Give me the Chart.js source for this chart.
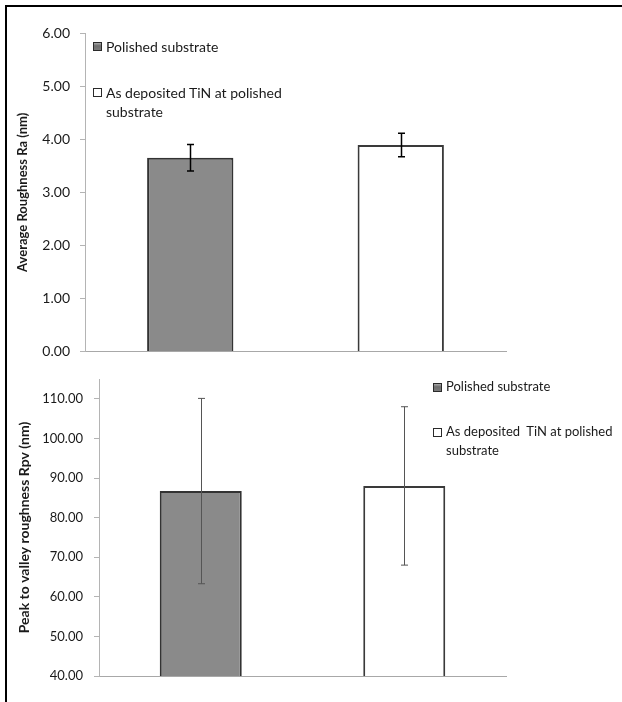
<!DOCTYPE html>
<html>
<head>
<meta charset="utf-8">
<script src="https://cdn.jsdelivr.net/npm/chart.js@4.4.1/dist/chart.umd.min.js"></script>
<style>
  html, body { margin: 0; padding: 0; background: #fff; overflow: hidden; }
  body { width: 622px; height: 702px; position: relative; font-family: Lato, "Liberation Sans", sans-serif; }
  .frame { position: absolute; left: 5px; top: 5px; width: 700px; height: 800px;
           border-top: 2px solid #000; border-left: 2px solid #000; }
  .box { position: absolute; left: 0; }
  .box canvas { display: block; }
  .item { position: absolute; color: #1a1a1a; white-space: pre; }
  .mark { position: absolute; width: 7px; height: 7px; border: 1px solid #2a2a2a; }
  .mark.grey { background: linear-gradient(#aaa, #6e6e6e 40%, #7a7a7a); }
  .mark.white { background: #fff; }
</style>
</head>
<body>
<div class="frame"></div>
<div class="box" style="top:0"><canvas id="ra" width="622" height="370"></canvas></div>
<div class="box" style="top:360px"><canvas id="rpv" width="622" height="342"></canvas></div>
<div id="legends"></div>
<script>
'use strict';

// ── Data ─────────────────────────────────────────────────────────────────────
const categories  = ['Polished substrate', 'As deposited TiN at polished\nsubstrate'];
const raValues    = [3.65, 3.89];
const raErrors    = [0.25, 0.22];
const raTicks     = [0, 1, 2, 3, 4, 5, 6];
const rpvValues   = [86.7, 88.0];
const rpvErrors   = [23.4, 20.0];
const rpvTicks    = [40, 50, 60, 70, 80, 90, 100, 110];

const barFill     = ['#8a8a8a', '#ffffff'];
const barBorder   = ['#333333', '#3a3a3a'];

Chart.defaults.font.family = 'Lato, "Liberation Sans", sans-serif';
Chart.defaults.color = '#1a1a1a';

// ── Error bar plugin (draws from the dataset's y scale) ──────────────────────
const errorBars = {
  id: 'errorBars',
  afterDatasetsDraw(chart, args, opts) {
    const ctx  = chart.ctx;
    const y    = chart.scales.y;
    const meta = chart.getDatasetMeta(0);
    const vals = chart.data.datasets[0].data;
    ctx.save();
    ctx.strokeStyle = opts.color;
    ctx.lineWidth   = opts.width;
    meta.data.forEach((bar, i) => {
      const hi = y.getPixelForValue(vals[i] + opts.errors[i]);
      const lo = y.getPixelForValue(vals[i] - opts.errors[i]);
      const x  = Math.round(bar.x) + 0.5;
      ctx.beginPath();
      ctx.moveTo(x, hi); ctx.lineTo(x, lo);
      ctx.moveTo(x - opts.cap, hi); ctx.lineTo(x + opts.cap, hi);
      ctx.moveTo(x - opts.cap, lo); ctx.lineTo(x + opts.cap, lo);
      ctx.stroke();
    });
    ctx.restore();
  },
};

function makeChart(id, cfg) {
  return new Chart(document.getElementById(id), {
    type: 'bar',
    data: {
      labels: categories,
      datasets: [{
        data: cfg.values,
        backgroundColor: barFill,
        borderColor: barBorder,
        borderWidth: 2,
        borderSkipped: 'start',
        barPercentage: cfg.barPct,
        categoryPercentage: 1,
      }],
    },
    options: {
      responsive: false,
      animation: false,
      layout: { padding: cfg.padding },
      plugins: {
        legend: { display: false },
        tooltip: { enabled: false },
        errorBars: { errors: cfg.errors, color: cfg.errColor, width: cfg.errWidth, cap: 3.5 },
      },
      scales: {
        x: {
          ticks: { display: false },
          grid: { display: false, drawTicks: false },
          border: { display: true, color: '#a8a8a8', width: 1 },
        },
        y: {
          min: cfg.min, max: cfg.max,
          bounds: 'data',
          afterBuildTicks: axis => { axis.ticks = cfg.ticks.map(v => ({ value: v })); },
          afterFit: axis => { axis.width = cfg.axisX; },
          ticks: {
            padding: cfg.tickPad,
            font: { size: cfg.tickSize },
            color: '#1a1a1a',
            callback: v => Number(v).toFixed(2),
          },
          grid: { drawOnChartArea: false, drawTicks: true, tickLength: 5, color: '#b4b4b4' },
          border: { display: true, color: '#b4b4b4', width: 1 },
          title: {
            display: true,
            text: cfg.title,
            font: { size: cfg.titleSize, weight: 'bold' },
            color: '#1a1a1a',
            padding: { top: cfg.titlePad, bottom: 0 },
          },
        },
      },
    },
    plugins: [errorBars],
  });
}

// nudge the layout padding so the plot area lands on the wanted rows
function pinArea(chart, top, bottom) {
  const a = chart.chartArea;
  const p = chart.options.layout.padding;
  chart.options.layout.padding = {
    left: p.left, right: p.right,
    top: p.top + (top - a.top),
    bottom: p.bottom + (a.bottom - bottom),
  };
  chart.update();
}

const raChart = makeChart('ra', {
  values: raValues, errors: raErrors, ticks: raTicks, min: 0, max: 6,
  barPct: 0.41, axisX: 85, tickPad: 10, tickSize: 14,
  padding: { left: 0, right: 116, top: 33, bottom: 17 },
  errColor: '#000', errWidth: 1.5, titlePad: 15, titleSize: 13,
  title: 'Average Roughness Ra (nm)',
});
pinArea(raChart, 33, 353);

const rpvChart = makeChart('rpv', {
  values: rpvValues, errors: rpvErrors, ticks: rpvTicks, min: 40, max: 115,
  barPct: 0.403, axisX: 99, tickPad: 11, tickSize: 13,
  padding: { left: 0, right: 116, top: 19, bottom: 26 },
  errColor: '#555', errWidth: 1, titlePad: 16, titleSize: 14,
  title: 'Peak to valley roughness Rpv (nm)',
});
pinArea(rpvChart, 19, 316);

// ── HTML legends (text from the categories array) ────────────────────────────
const legendSpots = [
  { mx: 93,  my: 42,  tx: 106, ty: 36.5, lh: 19,   fs: 14, k: 0 },
  { mx: 93,  my: 88,  tx: 106, ty: 83,   lh: 19,   fs: 14, k: 1 },
  { mx: 433, my: 383, tx: 446, ty: 377,  lh: 18.5, fs: 13, k: 0 },
  { mx: 433, my: 428, tx: 446, ty: 422,  lh: 18.5, fs: 13, k: 1, text: 'As deposited  TiN at polished\nsubstrate' },
];
const legendBox = document.getElementById('legends');
legendSpots.forEach(s => {
  const m = document.createElement('div');
  m.className = 'mark ' + (s.k === 0 ? 'grey' : 'white');
  m.style.left = s.mx + 'px';
  m.style.top  = s.my + 'px';
  const t = document.createElement('div');
  t.className = 'item';
  t.style.left = s.tx + 'px';
  t.style.top  = s.ty + 'px';
  t.style.fontSize = s.fs + 'px';
  t.style.lineHeight = s.lh + 'px';
  t.textContent = s.text || categories[s.k];
  legendBox.appendChild(m);
  legendBox.appendChild(t);
});
</script>
</body>
</html>
